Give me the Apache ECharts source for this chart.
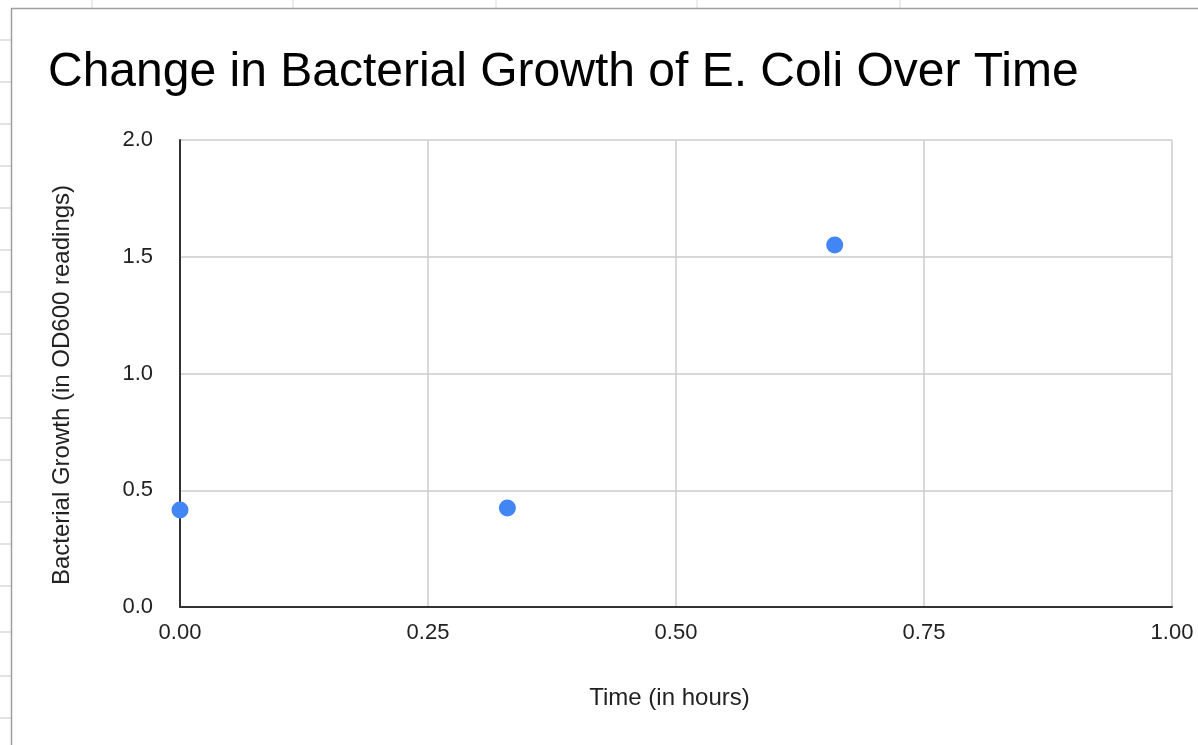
<!DOCTYPE html>
<html>
<head>
<meta charset="utf-8">
<title>Bacterial Growth</title>
<script src="https://cdn.jsdelivr.net/npm/echarts@6/dist/echarts.min.js"></script>
<style>
  html, body { margin: 0; padding: 0; background: #fff; }
  #growthChart { width: 1198px; height: 745px; }
</style>
</head>
<body>
<div id="growthChart"></div>
<script>
// data
var timeHours = [0, 0.33, 0.66]
var od600 = [0.415, 0.424, 1.55]
var xTicks = [0, 0.25, 0.5, 0.75, 1]
var yTicks = [0, 0.5, 1, 1.5, 2]

// spreadsheet cell lines behind the chart (decoration only)
var sheetCols = [92, 293, 496, 697, 900]
var sheetRows = [40, 82, 124, 166, 208, 250, 292, 334, 376, 418, 460, 502, 544, 586, 632, 676, 718]

var sheetLines = []
sheetCols.forEach(function (x) {
  sheetLines.push({ type: 'line', shape: { x1: x, y1: 0, x2: x, y2: 8 }, style: { stroke: '#d9d9d9', lineWidth: 1 }, silent: true })
})
sheetRows.forEach(function (y) {
  sheetLines.push({ type: 'line', shape: { x1: 0, y1: y, x2: 11, y2: y }, style: { stroke: '#d9d9d9', lineWidth: 1.5 }, silent: true })
})
// chart frame
sheetLines.push({ type: 'polyline', shape: { points: [[11.5, 745], [11.5, 8.5], [1198, 8.5]] }, style: { stroke: '#9e9e9e', lineWidth: 1.5, fill: null }, silent: true })

var myChart = echarts.init(document.getElementById('growthChart'))

function fmt(digits) {
  return function (v) { return v.toFixed(digits) }
}

var option = {
  animation: false,
  textStyle: { fontFamily: 'Liberation Sans, Arial, sans-serif' },
  title: {
    text: 'Change in Bacterial Growth of E. Coli Over Time',
    left: 43,
    top: 44,
    textStyle: { fontSize: 48, fontWeight: 'normal', color: '#000' }
  },
  graphic: sheetLines,
  grid: { left: 180, right: 26, top: 140, bottom: 138 },
  xAxis: {
    type: 'value',
    min: xTicks[0],
    max: xTicks[xTicks.length - 1],
    interval: 0.25,
    name: 'Time (in hours)',
    nameLocation: 'middle',
    nameGap: 79,
    nameTextStyle: { fontSize: 24, color: '#222', padding: [0, 13, 0, 0] },
    axisLine: { show: true, onZero: false, lineStyle: { color: '#333', width: 2 } },
    axisTick: { show: false },
    axisLabel: { fontSize: 22, color: '#222', margin: 15, formatter: fmt(2) },
    splitLine: { show: true, lineStyle: { color: '#cccccc', width: 1.5 } }
  },
  yAxis: {
    type: 'value',
    min: yTicks[0],
    max: yTicks[yTicks.length - 1],
    interval: 0.5,
    name: 'Bacterial Growth (in OD600 readings)',
    nameLocation: 'middle',
    nameRotate: 90,
    nameGap: 106,
    nameTextStyle: { fontSize: 24, color: '#222', padding: [0, 23, 0, 0] },
    axisLine: { show: true, onZero: false, lineStyle: { color: '#333', width: 2 } },
    axisTick: { show: false },
    axisLabel: { fontSize: 22, color: '#222', margin: 27, formatter: fmt(1) },
    splitLine: { show: true, lineStyle: { color: '#cccccc', width: 1.5 } }
  },
  series: [
    {
      type: 'scatter',
      symbol: 'circle',
      symbolSize: 17,
      itemStyle: { color: '#4285f4', opacity: 1 },
      data: timeHours.map(function (t, i) { return [t, od600[i]] })
    }
  ]
}

myChart.setOption(option)
</script>
</body>
</html>
